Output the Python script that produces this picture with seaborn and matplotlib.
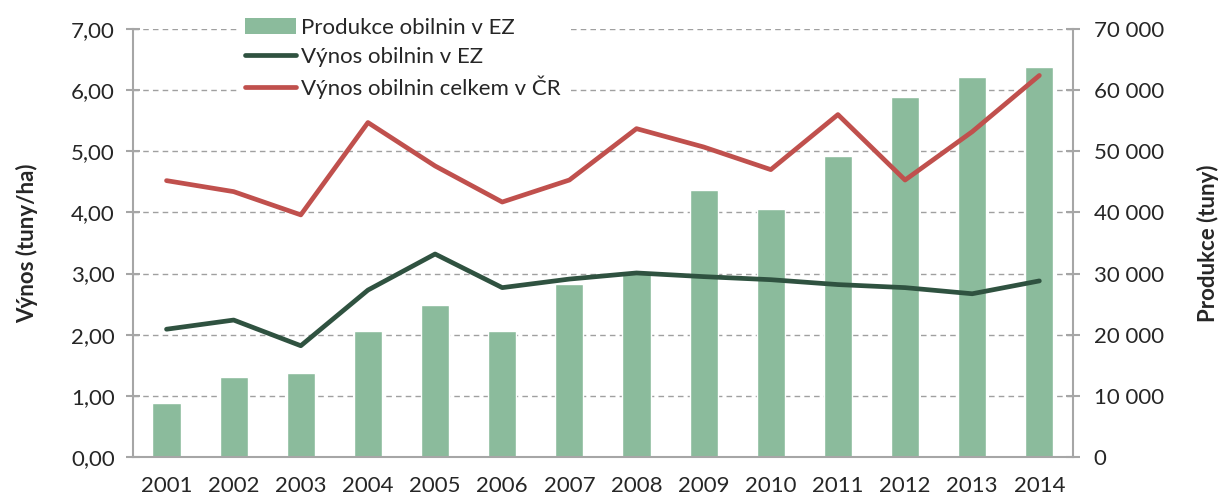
import numpy as np
import pandas as pd
import matplotlib
matplotlib.use("Agg")
import matplotlib.pyplot as plt
from matplotlib.ticker import FuncFormatter, MultipleLocator
from matplotlib.patches import Patch
from matplotlib.lines import Line2D
import seaborn as sns

# data
years = [2001, 2002, 2003, 2004, 2005, 2006, 2007, 2008, 2009, 2010, 2011, 2012, 2013, 2014]
produkce_ez = [8800, 13100, 13700, 20600, 24900, 20600, 28300, 30300, 43700, 40600, 49300, 58900, 62200, 63800]
vynos_ez = [2.09, 2.24, 1.82, 2.73, 3.32, 2.77, 2.91, 3.01, 2.95, 2.90, 2.82, 2.77, 2.67, 2.88]
vynos_cr = [4.52, 4.34, 3.96, 5.47, 4.76, 4.17, 4.53, 5.37, 5.07, 4.70, 5.60, 4.53, 5.32, 6.24]

df = pd.DataFrame({"rok": years, "produkce": produkce_ez, "ez": vynos_ez, "cr": vynos_cr})

sns.set_style("white")
plt.rcParams["font.family"] = ["Lato", "DejaVu Sans"]

bar_col = "#8BBB9C"
ez_col = "#2F5240"
cr_col = "#C0504D"
axis_col = "#A6A6A6"
txt_col = "#262626"

fig = plt.figure(figsize=(12.22, 4.98), dpi=100)
ax = fig.add_axes([0.1088, 0.0823, 0.7692, 0.8595])
ax2 = ax.twinx()

# bars on the secondary (production) axis, drawn underneath
sns.barplot(data=df, x="rok", y="produkce", native_scale=True, color=bar_col,
            width=0.42, saturation=1, ax=ax2, zorder=2)
ax2.set_ylim(0, 70000)
ax2.yaxis.set_major_locator(MultipleLocator(10000))
ax2.yaxis.set_major_formatter(FuncFormatter(lambda v, p: f"{int(v):,}".replace(",", " ")))
ax2.grid(axis="y", color="#A0A0A0", linestyle=(0, (4, 3)), linewidth=1.0, zorder=0)
ax2.set_axisbelow(True)

# yield lines on the primary axis
sns.lineplot(data=df, x="rok", y="ez", color=ez_col, linewidth=3.4, ax=ax,
             solid_capstyle="round", zorder=5)
sns.lineplot(data=df, x="rok", y="cr", color=cr_col, linewidth=3.4, ax=ax,
             solid_capstyle="round", zorder=5)
ax.set_zorder(ax2.get_zorder() + 1)
ax.patch.set_visible(False)

ax.set_ylim(0, 7)
ax.yaxis.set_major_locator(MultipleLocator(1))
ax.yaxis.set_major_formatter(FuncFormatter(lambda v, p: f"{v:.2f}".replace(".", ",")))
ax.set_xlim(years[0] - 0.5, years[-1] + 0.5)
ax.set_xticks(years)
ax.set_xticklabels([str(y) for y in years])
ax.set_xticks([y - 0.5 for y in years] + [years[-1] + 0.5], minor=True)
ax.tick_params(axis="x", which="major", length=0, pad=14, labelsize=16, labelcolor=txt_col)
ax.tick_params(axis="x", which="minor", length=8, width=1.5, color=axis_col, direction="out")
ax.tick_params(axis="y", length=10, width=1.5, color=axis_col, direction="inout",
               labelsize=16, labelcolor=txt_col, pad=8)
ax2.tick_params(axis="y", length=10, width=1.5, color=axis_col, direction="inout",
                labelsize=16, labelcolor=txt_col, pad=10)

ax.set_xlabel("")
ax.set_ylabel("Výnos (tuny/ha)", fontsize=16, fontweight="bold", color=txt_col, labelpad=24)
ax2.set_ylabel("Produkce (tuny)", fontsize=16, fontweight="bold", color=txt_col, labelpad=24)

for a in (ax, ax2):
    for s in a.spines.values():
        s.set_visible(False)
ax.spines["left"].set_visible(True)
ax.spines["bottom"].set_visible(True)
ax2.spines["right"].set_visible(True)
for s in (ax.spines["left"], ax.spines["bottom"], ax2.spines["right"]):
    s.set_color(axis_col)
    s.set_linewidth(1.5)

handles = [
    Patch(facecolor=bar_col, edgecolor="none"),
    Line2D([], [], color=ez_col, linewidth=3.4, solid_capstyle="round"),
    Line2D([], [], color=cr_col, linewidth=3.4, solid_capstyle="round"),
]
labels = ["Produkce obilnin v EZ", "Výnos obilnin v EZ", "Výnos obilnin celkem v ČR"]
leg = ax.legend(handles, labels, loc="upper left", bbox_to_anchor=(0.186, 1.0),
                bbox_transform=fig.transFigure, frameon=True, fancybox=False,
                edgecolor="white", facecolor="white", framealpha=1,
                fontsize=16, handlelength=2.3, handletextpad=0.2, labelspacing=0.4,
                borderpad=0.3)
for t in leg.get_texts():
    t.set_color(txt_col)

fig.savefig("out.png", dpi=100)
